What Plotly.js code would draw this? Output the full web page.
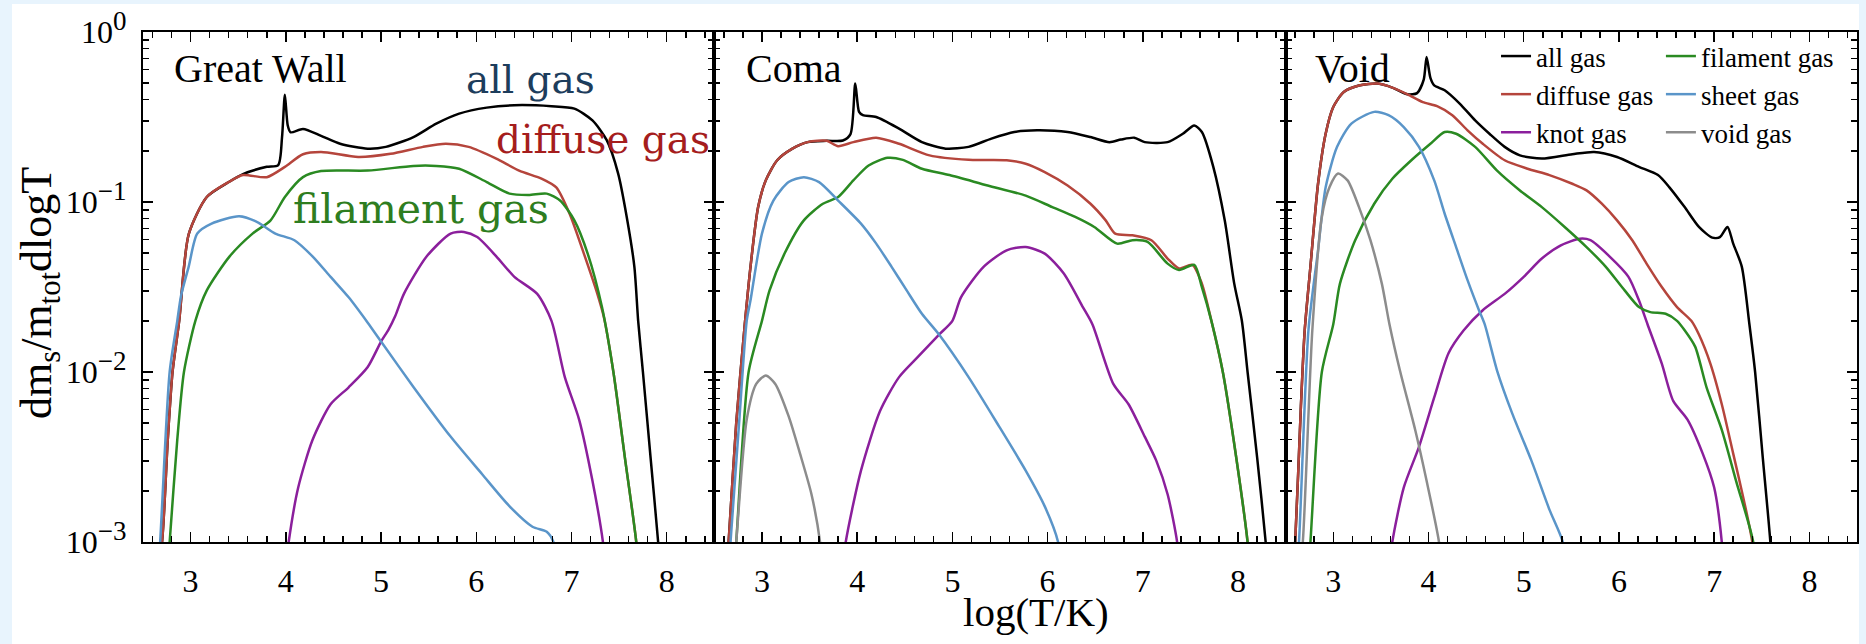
<!DOCTYPE html>
<html>
<head>
<meta charset="utf-8">
<script src="https://cdn.plot.ly/plotly-3.0.1.min.js"></script>
<style>
  html, body { margin: 0; padding: 0; background: #e8f4fd; width: 1866px; height: 644px; overflow: hidden; }
  #chart { position: absolute; left: 12px; top: 4px; width: 1847px; height: 640px; background: #ffffff; }
</style>
</head>
<body>
<div id="chart"></div>
<script>
// Temperature distributions of the gas mass, dm_s/(m_tot dlogT), versus log(T/K)
// for the Great Wall, Coma and Void regions, split by cosmic-web environment.

// ---- Great Wall ----
const gwAllT = [2.62,2.70,2.76,2.81,2.88,2.98,3.17,3.41,3.55,3.80,3.92,3.96,3.99,4.02,4.05,4.18,4.37,4.57,4.86,5.05,5.34,5.58,5.82,6.11,6.40,6.79,7.03,7.22,7.37,7.49,7.58,7.66,7.70,7.75,7.83,7.91,7.95];
const gwAllF = [0.0005,0.001,0.004,0.01,0.02,0.0646,0.107,0.132,0.146,0.161,0.165,0.24,0.427,0.282,0.257,0.269,0.245,0.22,0.206,0.211,0.241,0.289,0.331,0.359,0.371,0.366,0.354,0.302,0.231,0.147,0.0817,0.0417,0.02,0.01,0.00316,0.001,0.0005];
const gwDiffT = [2.62,2.70,2.76,2.81,2.88,2.98,3.17,3.41,3.55,3.80,3.99,4.18,4.37,4.76,5.10,5.44,5.68,5.92,6.21,6.45,6.69,6.84,6.98,7.13,7.27,7.34,7.44,7.56,7.68,7.72];
const gwDiffF = [0.0005,0.001,0.004,0.01,0.02,0.0646,0.107,0.132,0.144,0.14,0.161,0.191,0.197,0.184,0.192,0.211,0.22,0.211,0.18,0.153,0.137,0.122,0.0853,0.0497,0.029,0.021,0.01,0.00316,0.001,0.0005];
const gwKnotT = [3.99,4.03,4.13,4.28,4.47,4.66,4.86,5.00,5.08,5.15,5.24,5.48,5.73,5.87,6.01,6.21,6.40,6.64,6.79,6.93,7.08,7.22,7.33,7.36];
const gwKnotF = [0.00063,0.001,0.00209,0.00398,0.00646,0.00813,0.0107,0.0151,0.0178,0.0214,0.0288,0.0479,0.0652,0.0667,0.0622,0.0479,0.0363,0.0288,0.02,0.00933,0.00525,0.00229,0.001,0.00063];
const gwFilT = [2.74,2.78,2.86,2.93,3.05,3.17,3.41,3.65,3.84,3.99,4.18,4.37,4.86,5.34,5.58,5.82,6.11,6.35,6.55,6.74,6.88,7.03,7.17,7.32,7.44,7.56,7.68,7.72];
const gwFilF = [0.0005,0.001,0.004,0.01,0.02,0.0302,0.0479,0.0652,0.078,0.107,0.14,0.152,0.153,0.163,0.163,0.157,0.131,0.112,0.11,0.112,0.102,0.078,0.0497,0.0241,0.01,0.00316,0.001,0.0005];
const gwSheetT = [2.64,2.68,2.78,2.86,2.90,2.98,3.07,3.22,3.51,3.70,3.89,4.09,4.28,4.47,4.66,4.86,5.00,5.34,5.73,6.06,6.35,6.59,6.74,6.81,6.86];
const gwSheetF = [0.0005,0.001,0.01,0.02,0.0282,0.0417,0.0652,0.0746,0.0824,0.0762,0.0652,0.0596,0.0479,0.0363,0.0275,0.0195,0.0151,0.00817,0.00417,0.00251,0.00162,0.00123,0.00115,0.001,0.00063];

// ---- Coma ----
const cmAllT = [2.61,2.65,2.73,2.82,2.88,2.96,3.04,3.16,3.32,3.48,3.68,3.85,3.93,3.98,4.02,4.06,4.20,4.44,4.68,4.93,5.17,5.41,5.65,5.89,6.21,6.45,6.65,6.77,6.91,7.02,7.26,7.42,7.54,7.62,7.74,7.86,7.96,8.04,8.10,8.20,8.29,8.33];
const cmAllF = [0.0005,0.001,0.005,0.0191,0.0417,0.0933,0.134,0.176,0.206,0.225,0.229,0.23,0.251,0.497,0.339,0.324,0.316,0.27,0.225,0.206,0.211,0.236,0.258,0.264,0.258,0.241,0.225,0.233,0.239,0.225,0.225,0.252,0.282,0.258,0.161,0.078,0.0331,0.02,0.01,0.00316,0.001,0.0005];
const cmDiffT = [2.61,2.65,2.73,2.82,2.88,2.96,3.04,3.16,3.32,3.48,3.68,3.80,3.96,4.20,4.44,4.76,5.17,5.57,5.77,5.97,6.21,6.45,6.61,6.71,6.89,7.09,7.26,7.38,7.52,7.62,7.72,7.84,7.98,8.10,8.14];
const cmDiffF = [0.0005,0.001,0.005,0.0191,0.0417,0.0933,0.134,0.176,0.206,0.225,0.229,0.213,0.225,0.239,0.22,0.188,0.177,0.176,0.168,0.15,0.125,0.0977,0.078,0.0652,0.0637,0.0596,0.0465,0.0407,0.0427,0.0331,0.02,0.01,0.00316,0.001,0.0005];
const cmKnotT = [3.84,3.88,4.04,4.24,4.44,4.64,4.86,5.00,5.09,5.33,5.57,5.77,5.97,6.17,6.37,6.47,6.69,6.85,7.02,7.14,7.26,7.36,7.39];
const cmKnotF = [0.00063,0.001,0.00263,0.00589,0.00933,0.0123,0.0166,0.02,0.0275,0.0417,0.052,0.0543,0.0497,0.038,0.0241,0.0191,0.00851,0.00646,0.00417,0.00302,0.00191,0.001,0.00063];
const cmFilT = [2.69,2.73,2.86,3.00,3.08,3.24,3.44,3.64,3.80,3.96,4.12,4.32,4.48,4.68,4.97,5.37,5.77,6.05,6.29,6.49,6.73,6.89,7.05,7.26,7.38,7.54,7.62,7.72,7.84,7.98,8.10,8.14];
const cmFilF = [0.0005,0.001,0.01,0.02,0.0302,0.0501,0.078,0.0977,0.107,0.134,0.164,0.182,0.177,0.157,0.144,0.125,0.109,0.0933,0.0817,0.0713,0.0569,0.0596,0.0582,0.0434,0.0398,0.0427,0.0316,0.02,0.01,0.00316,0.001,0.0005];
const cmSheetT = [2.63,2.67,2.76,2.84,2.88,3.00,3.12,3.28,3.44,3.60,3.80,4.04,4.20,4.36,4.52,4.68,4.86,5.17,5.49,5.77,5.97,6.11,6.15];
const cmSheetF = [0.0005,0.001,0.005,0.02,0.0264,0.0652,0.102,0.131,0.14,0.131,0.102,0.0746,0.0569,0.0417,0.0302,0.022,0.0166,0.00933,0.00479,0.00263,0.00162,0.001,0.00063];
const cmVoidT = [2.70,2.73,2.84,2.94,3.04,3.14,3.28,3.40,3.52,3.61,3.64];
const cmVoidF = [0.00063,0.001,0.00525,0.00851,0.00955,0.00851,0.0055,0.00331,0.00191,0.001,0.00063];

// ---- Void ----
const vdAllT = [2.56,2.60,2.66,2.70,2.76,2.84,2.92,3.00,3.11,3.27,3.47,3.62,3.78,3.88,3.95,3.98,4.02,4.06,4.17,4.33,4.49,4.64,4.80,4.96,5.19,5.51,5.74,5.98,6.21,6.41,6.53,6.69,6.84,6.98,7.06,7.14,7.20,7.29,7.37,7.43,7.51,7.59,7.62];
const vdAllF = [0.0005,0.001,0.00631,0.0176,0.0417,0.128,0.252,0.362,0.444,0.485,0.497,0.471,0.43,0.437,0.525,0.713,0.537,0.485,0.454,0.378,0.302,0.252,0.211,0.188,0.18,0.191,0.197,0.184,0.161,0.144,0.122,0.0933,0.0713,0.0617,0.0622,0.0713,0.0569,0.0417,0.0191,0.01,0.00316,0.001,0.0005];
const vdDiffT = [2.56,2.60,2.66,2.70,2.76,2.84,2.92,3.00,3.11,3.27,3.47,3.62,3.78,3.94,4.09,4.25,4.41,4.57,4.80,5.04,5.27,5.51,5.66,5.82,5.98,6.14,6.29,6.45,6.61,6.76,6.84,6.96,7.08,7.20,7.31,7.40,7.44];
const vdDiffF = [0.0005,0.001,0.00631,0.0176,0.0417,0.128,0.252,0.362,0.444,0.485,0.497,0.471,0.43,0.387,0.366,0.324,0.264,0.22,0.176,0.157,0.144,0.128,0.117,0.0977,0.078,0.0596,0.0434,0.0316,0.0241,0.02,0.0166,0.0112,0.00646,0.00331,0.00178,0.001,0.0005];
const vdKnotT = [3.58,3.62,3.74,3.90,4.06,4.21,4.37,4.57,4.80,5.00,5.19,5.39,5.59,5.70,5.90,6.10,6.21,6.30,6.45,6.57,6.72,6.88,7.00,7.08,7.10];
const vdKnotF = [0.00063,0.001,0.00209,0.00363,0.00708,0.0129,0.0176,0.0231,0.0288,0.0363,0.0465,0.0556,0.0608,0.0596,0.0479,0.0363,0.0264,0.0191,0.0112,0.00676,0.00525,0.00331,0.00209,0.001,0.00063];
const vdFilT = [2.72,2.76,2.88,3.00,3.07,3.23,3.43,3.62,3.82,4.02,4.17,4.29,4.49,4.72,4.96,5.19,5.43,5.66,5.86,6.06,6.21,6.33,6.49,6.61,6.69,6.80,6.92,7.08,7.23,7.41,7.45];
const vdFilF = [0.0005,0.001,0.01,0.0191,0.0331,0.0596,0.0977,0.137,0.176,0.22,0.258,0.252,0.211,0.153,0.117,0.0933,0.0713,0.0543,0.0417,0.0302,0.0241,0.0225,0.022,0.02,0.0176,0.0141,0.00813,0.00457,0.00229,0.001,0.0005];
const vdSheetT = [2.60,2.64,2.74,2.84,2.92,3.04,3.19,3.43,3.58,3.74,3.90,4.06,4.17,4.29,4.41,4.53,4.59,4.72,4.88,5.08,5.27,5.41,5.45];
const vdSheetF = [0.0005,0.001,0.0178,0.052,0.122,0.211,0.289,0.339,0.324,0.276,0.211,0.134,0.0853,0.0543,0.0347,0.0231,0.0191,0.0102,0.00569,0.00302,0.00155,0.001,0.00063];
const vdVoidT = [2.64,2.68,2.78,2.88,2.96,3.05,3.15,3.27,3.39,3.51,3.59,3.70,3.86,3.98,4.11,4.14];
const vdVoidF = [0.00063,0.001,0.0176,0.0817,0.122,0.147,0.134,0.0933,0.0596,0.0331,0.0191,0.0102,0.00457,0.00229,0.001,0.00063];

// Axis labels
const panelNames = ['Great Wall', 'Coma', 'Void'];
const yTickVals = [0.001, 0.01, 0.1, 1];
const yTickExp = ['\u22123', '\u22122', '\u22121', '0'];
const xTitle = 'log(T/K)';
const yTitle = 'dm<sub>s</sub>/m<sub>tot</sub>dlogT';

// Series styling
const gasStyle = {
  all:      { name: 'all gas',      color: '#000000', legend: 'legend' },
  diffuse:  { name: 'diffuse gas',  color: '#b5453c', legend: 'legend' },
  knot:     { name: 'knot gas',     color: '#8b1f9c', legend: 'legend' },
  filament: { name: 'filament gas', color: '#2a8a22', legend: 'legend2' },
  sheet:    { name: 'sheet gas',    color: '#5a95c9', legend: 'legend2' },
  void:     { name: 'void gas',     color: '#8c8c8c', legend: 'legend2' }
};

const panels = [
  { ax: '', series: [['all', gwAllT, gwAllF], ['diffuse', gwDiffT, gwDiffF], ['knot', gwKnotT, gwKnotF],
                     ['filament', gwFilT, gwFilF], ['sheet', gwSheetT, gwSheetF]] },
  { ax: '2', series: [['all', cmAllT, cmAllF], ['diffuse', cmDiffT, cmDiffF], ['knot', cmKnotT, cmKnotF],
                      ['filament', cmFilT, cmFilF], ['sheet', cmSheetT, cmSheetF], ['void', cmVoidT, cmVoidF]] },
  { ax: '3', series: [['all', vdAllT, vdAllF], ['diffuse', vdDiffT, vdDiffF], ['knot', vdKnotT, vdKnotF],
                      ['filament', vdFilT, vdFilF], ['sheet', vdSheetT, vdSheetF], ['void', vdVoidT, vdVoidF]] }
];

const traces = [];
panels.forEach((p, i) => {
  p.series.forEach(([key, t, f]) => {
    const s = gasStyle[key];
    traces.push({
      type: 'scatter', mode: 'lines',
      x: t, y: f,
      xaxis: 'x' + p.ax, yaxis: 'y' + p.ax,
      name: s.name,
      legend: s.legend,
      showlegend: i === 2,
      line: { color: s.color, width: 2.5, shape: 'spline', smoothing: 0.7 },
      hoverinfo: 'skip'
    });
  });
});

const serif = 'Liberation Serif, Times New Roman, serif';
const tickFont = { family: serif, size: 32, color: '#000' };
// power-of-ten labels with a slightly larger exponent than the default <sup> size
const yTickText = yTickExp.map(e => '10<sup><span style="font-size:27px">' + e + '</span></sup>');

function xAxis(domain, anchor) {
  return {
    domain: domain, anchor: anchor, range: [2.5, 8.5],
    tickmode: 'linear', tick0: 3, dtick: 1,
    ticks: 'inside', ticklen: 10, tickwidth: 1.5, tickcolor: '#000',
    minor: { ticks: 'inside', ticklen: 6, tickwidth: 1.5, tickcolor: '#000', tick0: 0, dtick: 0.2, showgrid: false },
    showline: true, linewidth: 2, linecolor: '#000', mirror: 'ticks',
    showgrid: false, zeroline: false, tickfont: tickFont, ticklabelstandoff: 10, fixedrange: true
  };
}
function yAxis(anchor, labels) {
  return {
    anchor: anchor, type: 'log', range: [-3, 0],
    tickmode: 'array', tickvals: yTickVals, ticktext: yTickText, showticklabels: labels,
    ticks: 'inside', ticklen: 10, tickwidth: 1.5, tickcolor: '#000',
    minor: { ticks: 'inside', ticklen: 6, tickwidth: 1.5, tickcolor: '#000', dtick: 'D1', showgrid: false },
    showline: true, linewidth: 2, linecolor: '#000', mirror: 'ticks',
    showgrid: false, zeroline: false, tickfont: tickFont, ticklabelstandoff: 8, fixedrange: true
  };
}

const noteFont = 'DejaVu Serif, serif';
const legendBase = {
  xanchor: 'left', yanchor: 'top', y: 1.0,
  bgcolor: 'rgba(0,0,0,0)', borderwidth: 0, itemwidth: 30, tracegroupgap: 0,
  font: { family: serif, size: 27, color: '#000' }
};

const layout = {
  width: 1847, height: 640,
  margin: { l: 131, r: 2, t: 28, b: 102, pad: 0 },
  paper_bgcolor: '#ffffff', plot_bgcolor: '#ffffff',
  xaxis: xAxis([0, 1/3], 'y'),
  xaxis2: xAxis([1/3, 2/3], 'y2'),
  xaxis3: xAxis([2/3, 1], 'y3'),
  yaxis: yAxis('x', true),
  yaxis2: yAxis('x2', false),
  yaxis3: yAxis('x3', false),
  legend: Object.assign({}, legendBase, { x: 0.7894 }),
  legend2: Object.assign({}, legendBase, { x: 0.8856 }),
  annotations: [
    { text: panelNames[0], xref: 'x domain', yref: 'paper', x: 0.050, y: 0.929, xanchor: 'left', yanchor: 'middle', showarrow: false, font: { family: serif, size: 40, color: '#000' } },
    { text: panelNames[1], xref: 'x2 domain', yref: 'paper', x: 0.052, y: 0.929, xanchor: 'left', yanchor: 'middle', showarrow: false, font: { family: serif, size: 40, color: '#000' } },
    { text: panelNames[2], xref: 'x3 domain', yref: 'paper', x: 0.047, y: 0.929, xanchor: 'left', yanchor: 'middle', showarrow: false, font: { family: serif, size: 40, color: '#000' } },
    { text: 'all gas', xref: 'paper', yref: 'paper', x: 0.1873, y: 0.906, xanchor: 'left', yanchor: 'middle', showarrow: false, font: { family: noteFont, size: 39, color: '#1d3d5c' } },
    { text: 'diffuse gas', xref: 'paper', yref: 'paper', x: 0.2048, y: 0.790, xanchor: 'left', yanchor: 'middle', showarrow: false, font: { family: noteFont, size: 39, color: '#a51d1d' } },
    { text: 'filament gas', xref: 'paper', yref: 'paper', x: 0.0863, y: 0.653, xanchor: 'left', yanchor: 'middle', showarrow: false, font: { family: noteFont, size: 41, color: '#2e7d20' } },
    { text: xTitle, xref: 'paper', yref: 'paper', x: 0.521, y: -0.137, xanchor: 'center', yanchor: 'middle', showarrow: false, font: { family: serif, size: 41, color: '#000' } },
    { text: yTitle, xref: 'paper', yref: 'paper', x: -0.0604, y: 0.489, xanchor: 'center', yanchor: 'middle', textangle: -90, showarrow: false, font: { family: serif, size: 44, color: '#000' } }
  ]
};

Plotly.newPlot('chart', traces, layout, { displayModeBar: false, staticPlot: true });
</script>
</body>
</html>
